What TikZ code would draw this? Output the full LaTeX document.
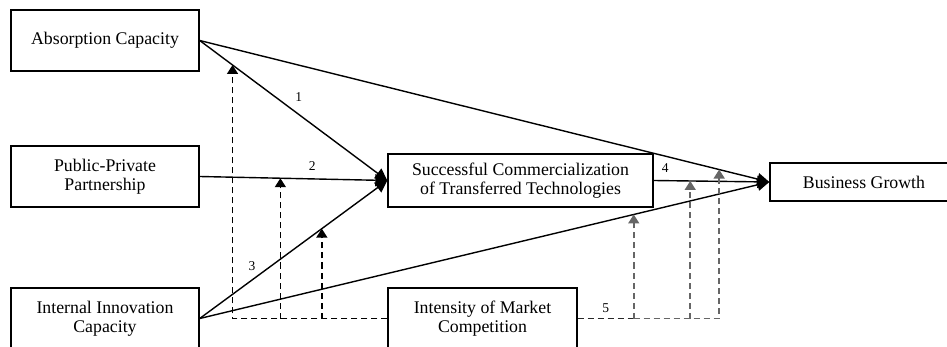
\documentclass[tikz,border=0pt]{standalone}
\usepackage{fontspec}
\setmainfont{Liberation Serif}
\usetikzlibrary{arrows.meta}

\tikzset{
  box/.style={draw,line width=1.4pt,align=center,minimum width=188pt,minimum height=61pt,inner sep=2pt,
    font=\fontsize{17.8}{19}\selectfont},
  conn/.style={line width=1.4pt,-{Triangle[length=12pt,width=12pt]}},
  modline/.style={line width=1.6pt,dash pattern=on 6pt off 4pt,-{Triangle[length=9pt,width=11pt]}},
  lab/.style={font=\fontsize{13.5}{13.5}\selectfont,inner sep=3pt}
}

\begin{document}
\begin{tikzpicture}[x=1pt,y=-1pt]
  \useasboundingbox (0,0) rectangle (947,347);
  \clip (0,0) rectangle (947,347);

  % variables
  \node[box] (absorb) at (105,40.5) {Absorption Capacity};
  \node[box] (ppp) at (105,176.5) {Public-Private\\Partnership};
  \node[box] (iic) at (105,318.5) {Internal Innovation\\Capacity};
  \node[box,minimum width=265pt,minimum height=53pt] (scot) at (520.5,180.5) {Successful Commercialization\\of Transferred Technologies};
  \node[box,minimum height=38pt] (bg) at (864,182) {Business Growth};
  \node[box,minimum width=189pt] (imc) at (482.5,318.5) {Intensity of Market\\Competition};

  % paths
  \draw[conn] (absorb.east) -- coordinate[pos=.175] (m1) node[lab,pos=.48,above right=2pt] {1} (scot.west);
  \draw[conn] (ppp.east) -- coordinate[pos=.43] (m2) node[lab,pos=.6,above=5pt] {2} (scot.west);
  \draw[conn] (iic.east) -- coordinate[pos=.651] (m3) node[lab,pos=.317,above left] {3} (scot.west);
  \draw[conn] (absorb.east) -- coordinate[pos=.912] (m6) (bg.west);
  \draw[conn] (iic.east) -- coordinate[pos=.762] (m4) (bg.west);
  \draw[conn] (scot.east) -- coordinate[pos=.316] (m5) node[lab,pos=.1,above=4pt] {4} (bg.west);

  % moderation by market competition
  \draw[modline] (imc.west) -- (m1 |- imc.west) -- (m1);
  \foreach \m in {m2,m3}
    \draw[modline] (\m |- imc.west) -- (\m);
  \draw[modline,-,black!85] (imc.east) -- node[lab,above=2pt,black] {5} (m4 |- imc.east);
  \draw[modline,black!60] (m4 |- imc.east) -- (m6 |- imc.east) -- (m6);
  \foreach \m in {m4,m5}
    \draw[modline,black!60] (\m |- imc.east) -- (\m);
\end{tikzpicture}
\end{document}
